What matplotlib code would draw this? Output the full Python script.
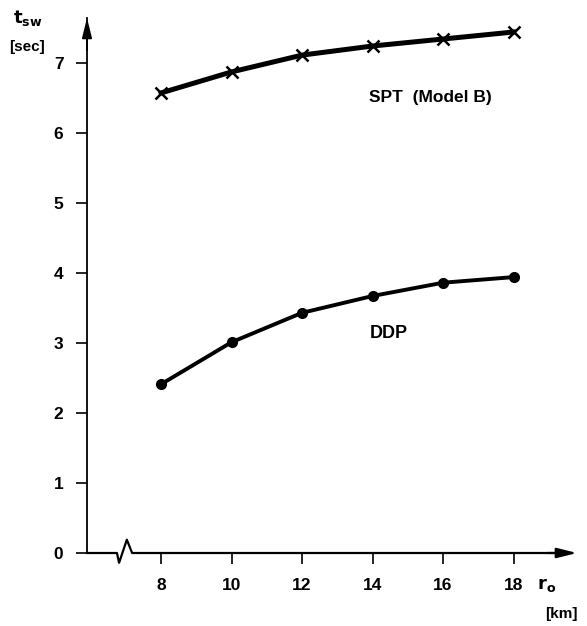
import matplotlib.pyplot as plt
import numpy as np

r_o = [8, 10, 12, 14, 16, 18]
spt_model_b = [6.57, 6.87, 7.11, 7.24, 7.34, 7.44]
ddp = [2.41, 3.01, 3.43, 3.67, 3.86, 3.94]

x_ticks = [8, 10, 12, 14, 16, 18]
y_ticks = [0, 1, 2, 3, 4, 5, 6, 7]

plt.rcParams['font.family'] = ['Liberation Sans', 'DejaVu Sans']
plt.rcParams['font.weight'] = 'bold'

fig = plt.figure(figsize=(5.87, 6.26), dpi=100)
W, H = 587, 626
ax = fig.add_axes([87 / W, 73 / H, 490 / W, 535 / H])
ax.set_xlim(5.9, 19.8)
ax.set_ylim(0, 7.64)

for s in ['top', 'right', 'bottom']:
    ax.spines[s].set_visible(False)
ax.spines['left'].set_linewidth(1.3)

# x axis with break
x_brk = [5.9, 6.75, 6.81, 7.03, 7.18, 19.5]
y_brk = [0, 0, -0.14, 0.19, 0, 0]
ax.plot(x_brk, y_brk, color='black', lw=1.6, clip_on=False)

# arrow heads
ax.annotate('', xy=(1.0, 0), xycoords='axes fraction', xytext=(0.94, 0),
            arrowprops=dict(arrowstyle='-|>,head_length=1.2,head_width=0.3',
                            color='black', lw=1.6, shrinkA=0, shrinkB=0))
ax.annotate('', xy=(0, 1.0), xycoords='axes fraction', xytext=(0, 0.94),
            arrowprops=dict(arrowstyle='-|>,head_length=1.2,head_width=0.3',
                            color='black', lw=1.3, shrinkA=0, shrinkB=0))

ax.set_xticks(x_ticks)
ax.set_yticks(y_ticks)
ax.tick_params(axis='both', direction='out', length=8, width=1.2,
               labelsize=12.5, pad=9)
ax.tick_params(axis='x', pad=10)
for lab in ax.get_xticklabels() + ax.get_yticklabels():
    lab.set_fontweight('bold')

ax.plot(r_o, spt_model_b, color='black', lw=3.6, marker='x', ms=8, mew=1.8,
        clip_on=False)
ax.plot(r_o, ddp, color='black', lw=2.8, marker='o', ms=7, clip_on=False)

ax.text(15.64, 6.51, 'SPT  (Model B)', ha='center', va='center',
        fontsize=12.5, fontweight='bold')
ax.text(14.45, 3.14, 'DDP', ha='center', va='center',
        fontsize=13, fontweight='bold')

fig.text(28 / W, 1 - 18 / H, r'$\mathbf{t_{sw}}$', ha='center', va='center',
         fontsize=13)
fig.text(27 / W, 1 - 47 / H, '[sec]', ha='center', va='center',
         fontsize=11, fontweight='bold')
fig.text(547 / W, 1 - 585 / H, r'$\mathbf{r_o}$', ha='center', va='center',
         fontsize=13)
fig.text(561 / W, 1 - 614 / H, '[km]', ha='center', va='center',
         fontsize=11, fontweight='bold')

fig.savefig('out.png', dpi=100)
